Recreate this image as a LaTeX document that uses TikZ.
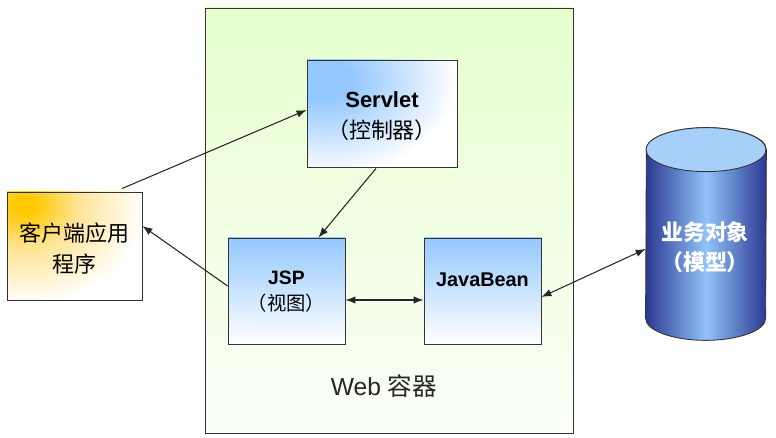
\documentclass[tikz,border=0pt]{standalone}
\usepackage{fontspec}
\setmainfont{Liberation Sans}
\newfontfamily\cjk{Noto Sans CJK SC}
\usetikzlibrary{arrows.meta}
\definecolor{boxblue}{RGB}{148,200,255}
\definecolor{clientorange}{RGB}{255,200,0}
\definecolor{clientpale}{RGB}{255,228,150}
\definecolor{webgreen}{RGB}{230,255,205}
\definecolor{dbdark}{RGB}{44,56,146}
\definecolor{dblight}{RGB}{145,195,248}
\definecolor{dbtop}{RGB}{166,208,250}
\pgfdeclareradialshading{glowblue}{\pgfpoint{0bp}{0bp}}{color(0bp)=(boxblue); color(5bp)=(boxblue); color(25bp)=(white); color(50bp)=(white)}
\pgfdeclareradialshading{gloworange}{\pgfpoint{0bp}{0bp}}{color(0bp)=(clientorange); color(2bp)=(clientorange); color(11bp)=(clientpale); color(25bp)=(white); color(50bp)=(white)}
\tikzset{
    box/.style={rectangle,draw=black!80,line width=0.5pt,inner sep=0pt},
    boxtext/.style={align=center,inner sep=0pt,font=\fontsize{#1}{18pt}\selectfont},
    link/.style={draw=black!85,line width=0.6pt},
    arrowto/.style={link,-{Latex[length=2mm,width=1.5mm]}},
    arrowboth/.style={link,{Latex[length=2mm,width=1.5mm]}-{Latex[length=2mm,width=1.5mm]}},
}
\begin{document}
\begin{tikzpicture}
    \useasboundingbox (0,0) rectangle (15.52,8.76);
    % container
    \node[box,minimum width=7.36cm,minimum height=8.5cm,top color=webgreen,bottom color=webgreen!15!white] (web) at (7.78,4.35) {};
    \node[font=\fontsize{14pt}{16pt}\selectfont,text=black!85] (webtext) at (7.68,1.04) {Web {\cjk 容器}};
    % boxes
    \node[box,fill=white,minimum width=3cm,minimum height=2.14cm,path picture={
        \shade[shading=glowblue] ([xshift=0.36cm,yshift=-0.4cm]path picture bounding box.north west) ellipse (2.6cm and 1.9cm);
    }] (servlet) at (7.64,6.49) {};
    \node[boxtext=12.5pt,yshift=-0.05cm] (servlettext) at (servlet) {\textbf{Servlet}\\{\cjk （控制器）}};
    \node[box,minimum width=2.34cm,minimum height=2.12cm,top color=boxblue,bottom color=white] (jsp) at (5.73,2.94) {};
    \node[boxtext=11pt,font=\fontsize{11pt}{15pt}\selectfont,yshift=-0.02cm] (jsptext) at (jsp) {\textbf{JSP}\\{\cjk （视图）}};
    \node[box,minimum width=2.34cm,minimum height=2.12cm,top color=boxblue,bottom color=white] (bean) at (9.65,2.94) {};
    \node[boxtext=11.3pt,yshift=0.23cm] (beantext) at (bean) {\textbf{JavaBean}};
    \node[box,fill=white,minimum width=2.7cm,minimum height=2.16cm,path picture={
        \shade[shading=gloworange] ([xshift=0.36cm,yshift=-0.26cm]path picture bounding box.north west) ellipse (2.4cm and 2cm);
    }] (client) at (1.49,3.84) {};
    \node[boxtext=12.5pt,yshift=-0.05cm] (clienttext) at (client) {\cjk 客户端应用\\\cjk 程序};
    % database
    \node[rectangle,inner sep=0pt,minimum width=2.4cm,minimum height=4.24cm] (db) at (14.12,4.08) {};
    \draw[draw=black!80,line width=0.5pt,left color=dbdark,right color=dbdark,middle color=dblight] ([yshift=0.44cm]db.south west) arc (180:360:1.2cm and 0.44cm) -- ([yshift=-0.44cm]db.north east) arc (0:180:1.2cm and 0.44cm) -- cycle;
    \draw[draw=black!80,line width=0.5pt,fill=dbtop] ([yshift=-0.44cm]db.north) ellipse (1.2cm and 0.44cm);
    \node[text=white,align=center,font=\fontsize{12.5pt}{17pt}\selectfont\bfseries] (dbtext) at (14.1,3.82) {\cjk 业务对象\\\cjk （模型）};
    % connectors
    \draw[arrowto] ([xshift=0.95cm,yshift=0.06cm]client.north) -- ([yshift=0.07cm]servlet.west);
    \draw[arrowto] ([xshift=-0.12cm,yshift=-0.02cm]servlet.south) -- ([xshift=0.64cm]jsp.north);
    \draw[arrowto] ([yshift=0.1cm]jsp.west) -- ([yshift=0.4cm]client.east);
    \draw[arrowboth] ([yshift=-0.18cm]jsp.east) -- ([yshift=-0.18cm]bean.west);
    \draw[arrowboth] ([yshift=-0.12cm]bean.east) -- ([yshift=-0.3cm]db.west);
\end{tikzpicture}
\end{document}
